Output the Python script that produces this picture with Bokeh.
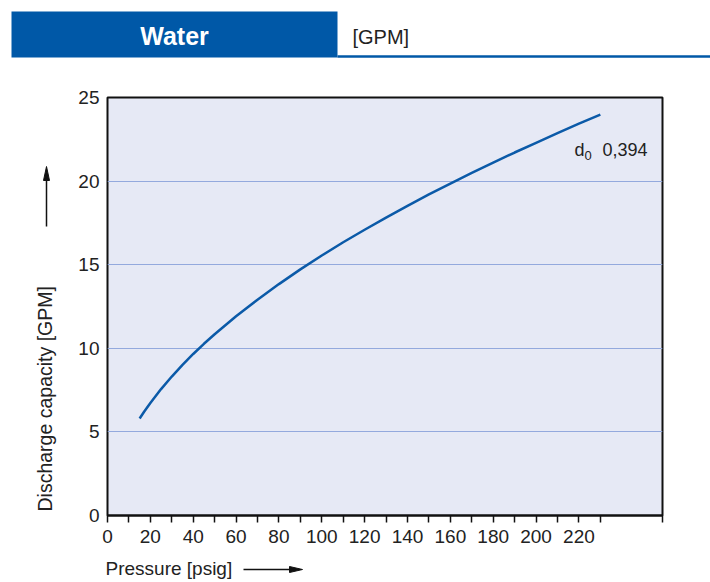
from math import pi
from bokeh.plotting import figure
from bokeh.layouts import column, row
from bokeh.models import FixedTicker, Label
from bokeh.core.properties import value
from bokeh.embed import file_html
from bokeh.resources import INLINE

# ---- data ----
pressure = [15, 17, 20, 25, 30, 35, 40, 45, 50, 60, 70, 80, 90, 100, 110, 120,
            130, 140, 150, 160, 170, 180, 190, 200, 210, 220, 230]
flow = [5.80, 6.19, 6.73, 7.56, 8.31, 9.01, 9.66, 10.27, 10.84, 11.92, 12.91,
        13.84, 14.72, 15.55, 16.34, 17.09, 17.82, 18.52, 19.20, 19.85, 20.49,
        21.10, 21.71, 22.29, 22.87, 23.44, 23.98]
x_ticks = [0, 20, 40, 60, 80, 100, 120, 140, 160, 180, 200, 220]
x_minor = [10, 30, 50, 70, 90, 110, 130, 150, 170, 190, 210, 230]
y_ticks = [0, 5, 10, 15, 20, 25]
y_grid = [5, 10, 15, 20]
x_end = 259
y_end = 25
series_name = "0,394"
title_text = "Water"
unit_text = "[GPM]"
x_label = "Pressure [psig]"
y_label = "Discharge capacity [GPM]"

FONT = "Liberation Sans"
BLUE = "#0058a7"
TXT = "#222222"
DARK = "#111111"
PAGE_W, PAGE_H = 710, 582
HEAD_H = 60
LEFT_W = 70
BOTTOM_H = 24
MID_H = PAGE_H - HEAD_H - BOTTOM_H


def blank(w, h, y_top):
    """Decoration panel whose data coordinates equal page pixels."""
    f = figure(width=w, height=h, x_range=(0, w),
               y_range=(y_top + h, y_top),
               toolbar_location=None, output_backend="svg",
               x_axis_location=None, y_axis_location=None,
               min_border=0, outline_line_color=None,
               background_fill_color="white", border_fill_color="white")
    f.xgrid.visible = False
    f.ygrid.visible = False
    return f


# ---- header strip ----
header = blank(PAGE_W, HEAD_H, 0)
header.quad(left=11, right=337, top=11, bottom=57, fill_color=BLUE, line_color=None)
header.segment(x0=337, y0=56, x1=PAGE_W, y1=56, line_color=BLUE, line_width=2.5)
header.text(x=[174], y=[35], text=[title_text], text_color="white",
            text_font=value(FONT), text_font_size="25px", text_font_style="bold",
            text_align="center", text_baseline="middle")
header.text(x=[352], y=[36], text=[unit_text], text_color=TXT,
            text_font=value(FONT), text_font_size="20px",
            text_align="left", text_baseline="middle")

# ---- left strip: y-axis title with arrow ----
left = blank(LEFT_W, MID_H, HEAD_H)
left.text(x=[44], y=[511], text=[y_label], angle=pi / 2, text_color=TXT,
          text_font=value(FONT), text_font_size="19.5px",
          text_align="left", text_baseline="middle")
left.segment(x0=46, y0=226, x1=46, y1=178, line_color=DARK, line_width=1.5)
left.patch(x=[46, 43, 49], y=[166, 180, 180], fill_color=DARK, line_color=DARK)

# ---- main chart ----
p = figure(width=PAGE_W - LEFT_W, height=MID_H, x_range=(0, x_end), y_range=(0, y_end),
           toolbar_location=None, output_backend="svg",
           min_border_left=107 - LEFT_W, min_border_right=PAGE_W - 662,
           min_border_top=97 - HEAD_H, min_border_bottom=HEAD_H + MID_H - 515,
           background_fill_color="#e6e9f5", border_fill_color="white",
           outline_line_color=DARK, outline_line_width=2)

p.xgrid.visible = False
p.ygrid.ticker = FixedTicker(ticks=y_grid)
p.ygrid.grid_line_color = "#93a9dd"
p.ygrid.grid_line_width = 1

xa = p.xaxis[0]
xa.ticker = FixedTicker(ticks=x_ticks, minor_ticks=x_minor + [x_end])
xa.axis_line_color = DARK
xa.axis_line_width = 2
xa.major_tick_in = 0
xa.major_tick_out = 7
xa.minor_tick_in = 0
xa.minor_tick_out = 7
xa.major_tick_line_color = DARK
xa.minor_tick_line_color = DARK
xa.major_tick_line_width = 1.5
xa.minor_tick_line_width = 1.5
xa.major_label_standoff = 7
xa.major_label_text_font = FONT
xa.major_label_text_font_size = "19px"
xa.major_label_text_color = TXT

ya = p.yaxis[0]
ya.ticker = FixedTicker(ticks=y_ticks)
ya.axis_line_color = None
ya.major_tick_in = 0
ya.major_tick_out = 0
ya.minor_tick_in = 0
ya.minor_tick_out = 0
ya.major_label_standoff = 8
ya.major_label_text_font = FONT
ya.major_label_text_font_size = "19px"
ya.major_label_text_color = TXT

p.line(pressure, flow, line_color="#0b5aa8", line_width=2.5)

# page-pixel helpers for label placement inside the frame
FX0, FY0 = 107, 515
KX = 555 / x_end
KY = 418 / y_end
def dx(px):
    return (px - FX0) / KX
def dy(py):
    return (FY0 - py) / KY

p.add_layout(Label(x=dx(574), y=dy(149), text="d",
                   text_align="left", text_baseline="alphabetic",
                   text_font=FONT, text_font_size="18px", text_color=TXT))
p.add_layout(Label(x=dx(584), y=dy(155), text="0",
                   text_align="left", text_baseline="alphabetic",
                   text_font=FONT, text_font_size="13px", text_color=TXT))
p.add_layout(Label(x=dx(602), y=dy(149), text=series_name,
                   text_align="left", text_baseline="alphabetic",
                   text_font=FONT, text_font_size="18px", text_color=TXT))

# ---- bottom strip: x-axis title with arrow ----
bottom = blank(PAGE_W, BOTTOM_H, HEAD_H + MID_H)
bottom.text(x=[105], y=[568], text=[x_label], text_color=TXT,
            text_font=value(FONT), text_font_size="19px",
            text_align="left", text_baseline="middle")
bottom.segment(x0=243, y0=569, x1=290, y1=569, line_color=DARK, line_width=1.5)
bottom.patch(x=[302, 289, 289], y=[569, 566, 572], fill_color=DARK, line_color=DARK)

for f in (header, left, p, bottom):
    try:
        f.frame_align = False
    except Exception:
        pass

layout = column(header, row(left, p, spacing=0), bottom, spacing=0)
open("out.html", "w").write(file_html(layout, INLINE))
